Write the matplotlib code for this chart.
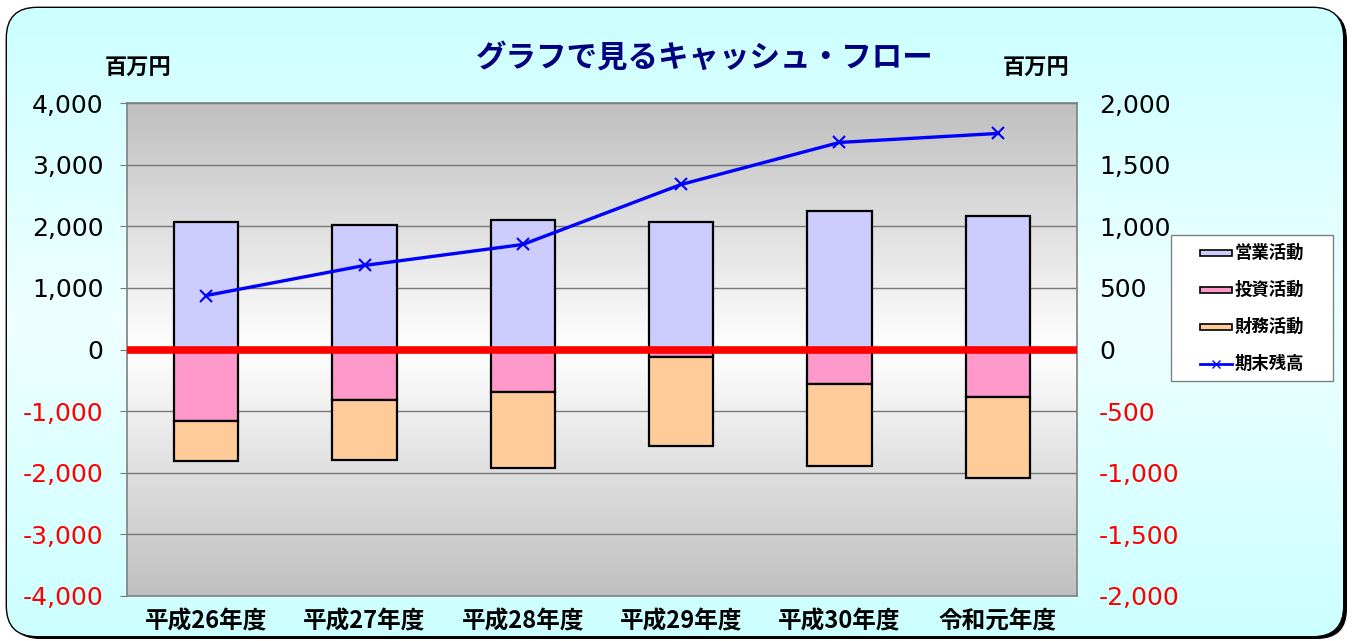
import matplotlib
matplotlib.use("Agg")
import matplotlib.pyplot as plt
import numpy as np
from matplotlib.patches import FancyBboxPatch, Rectangle
from matplotlib.lines import Line2D

# ---- data ----
categories = ["平成26年度", "平成27年度", "平成28年度", "平成29年度", "平成30年度", "令和元年度"]
operating = [2062, 2013, 2094, 2062, 2240, 2159]       # 営業活動
investing = [-1153, -812, -682, -114, -552, -763]      # 投資活動
financing = [-649, -974, -1234, -1444, -1331, -1315]   # 財務活動
balance = [438, 682, 852, 1339, 1680, 1753]            # 期末残高 (right axis)
left_ticks = [-4000, -3000, -2000, -1000, 0, 1000, 2000, 3000, 4000]
right_ticks = [-2000, -1500, -1000, -500, 0, 500, 1000, 1500, 2000]
series_names = ["営業活動", "投資活動", "財務活動", "期末残高"]
title = "グラフで見るキャッシュ・フロー"
unit = "百万円"

CJK = ["Noto Sans CJK JP", "DejaVu Sans"]
NUM = ["DejaVu Sans"]

C_OP, C_INV, C_FIN, C_BAL = "#ccccff", "#ff99cc", "#ffcc99", "#0000ff"

W, H = 1359, 641
fig = plt.figure(figsize=(W / 100, H / 100), dpi=100)
fig.patch.set_facecolor("white")

# ---- background rounded panel (pixel coordinates, y up) ----
bg = fig.add_axes([0, 0, 1, 1], zorder=-10)
bg.set_xlim(0, W)
bg.set_ylim(0, H)
bg.axis("off")
shadow = FancyBboxPatch((10, 2), W - 10 - 12, H - 10 - 2,
                        boxstyle="round,pad=0,rounding_size=30",
                        facecolor="black", edgecolor="black", lw=0)
bg.add_patch(shadow)
panel = FancyBboxPatch((7, 5), W - 7 - 16, H - 8 - 5,
                       boxstyle="round,pad=0,rounding_size=30",
                       facecolor="#ccffff", edgecolor="black", lw=2)
bg.add_patch(panel)
t = np.linspace(0, 1, 256)
g = 1 - np.abs(t - 0.5) * 2
col = np.zeros((256, 1, 3))
c0 = np.array([0xcc, 0xff, 0xff]) / 255
c1 = np.array([0xee, 0xff, 0xff]) / 255
for i, v in enumerate(g):
    col[i, 0] = c0 + (c1 - c0) * v
im = bg.imshow(col, extent=[7, W - 16, 5, H - 8], aspect="auto", origin="lower", zorder=1)
im.set_clip_path(panel)

# ---- main axes ----
ax = fig.add_axes([127 / W, 1 - 596 / H, 950 / W, 493 / H])
ax.patch.set_visible(False)
x = np.arange(len(categories))
gv = 1 - np.abs(np.linspace(0, 1, 256) - 0.5) * 2
grey = np.zeros((256, 1, 3))
for i, v in enumerate(gv):
    c = 0.75 + 0.25 * v
    grey[i, 0] = [c, c, c]
ax.imshow(grey, extent=[0, 1, 0, 1], transform=ax.transAxes, aspect="auto",
          origin="lower", zorder=0)

for yv in left_ticks:
    ax.axhline(yv, color="#777777", lw=1.0, zorder=1)

bw = 0.405
ax.bar(x, operating, bw, color=C_OP, edgecolor="black", lw=1.6, zorder=2)
ax.bar(x, investing, bw, color=C_INV, edgecolor="black", lw=1.6, zorder=2)
ax.bar(x, financing, bw, bottom=investing, color=C_FIN, edgecolor="black", lw=1.6, zorder=2)
ax.axhline(0, color="#ff0000", lw=5.5, zorder=3)

ax.set_xlim(-0.5, len(categories) - 0.5)
ax.set_ylim(-4000, 4000)
ax.set_yticks(left_ticks)
ax.set_yticklabels([f"{v:,}" for v in left_ticks], fontsize=18, family=NUM)
for lbl, v in zip(ax.get_yticklabels(), left_ticks):
    lbl.set_color("red" if v < 0 else "black")
ax.set_xticks(x)
ax.set_xticklabels(categories, family=CJK, fontsize=17, fontweight="bold")
ax.tick_params(axis="x", length=0, pad=10)
ax.tick_params(axis="y", length=5, color="#777777", pad=12)
for s in ax.spines.values():
    s.set_color("#808080")
    s.set_linewidth(1.2)

ax2 = ax.twinx()
ax2.set_ylim(-2000, 2000)
ax2.plot(x, balance, color=C_BAL, lw=2.4, marker="x", ms=9, mew=1.5, zorder=5)
ax2.set_yticks(right_ticks)
ax2.set_yticklabels([f"{v:,}" for v in right_ticks], fontsize=18, family=NUM)
for lbl, v in zip(ax2.get_yticklabels(), right_ticks):
    lbl.set_color("red" if v < 0 else "black")
ax2.tick_params(axis="y", length=0, pad=16)
for s in ax2.spines.values():
    s.set_visible(False)

# ---- texts ----
fig.text(705 / W, 1 - 58 / H, title, family=CJK, fontsize=22, fontweight="bold",
         color="#000080", ha="center", va="center")
fig.text(138 / W, 1 - 68 / H, unit, family=CJK, fontsize=16, fontweight="bold",
         ha="center", va="center")
fig.text(1036 / W, 1 - 68 / H, unit, family=CJK, fontsize=16, fontweight="bold",
         ha="center", va="center")

# ---- legend (drawn as a box in pixel coordinates) ----
lg = fig.add_axes([0, 0, 1, 1], zorder=10)
lg.set_xlim(0, W)
lg.set_ylim(0, H)
lg.axis("off")
lg.add_patch(Rectangle((1171, H - 381), 1333 - 1171, 381 - 235,
                       facecolor="white", edgecolor="#808080", lw=1.0))
rows_y = [253, 290, 327, 364]
colors = [C_OP, C_INV, C_FIN]
for i, (name, yy) in enumerate(zip(series_names, rows_y)):
    yc = H - yy
    if i < 3:
        lg.add_patch(Rectangle((1200, yc - 3), 32, 6, facecolor=colors[i],
                               edgecolor="black", lw=1.2))
    else:
        lg.add_line(Line2D([1200, 1232], [yc, yc], color=C_BAL, lw=2))
        lg.add_line(Line2D([1216], [yc], color=C_BAL, marker="x", ms=6, mew=1,
                           linestyle="none"))
    lg.text(1235, yc, name, family=CJK, fontsize=12.5, fontweight="bold",
            ha="left", va="center")

fig.savefig("out.png", dpi=100)
